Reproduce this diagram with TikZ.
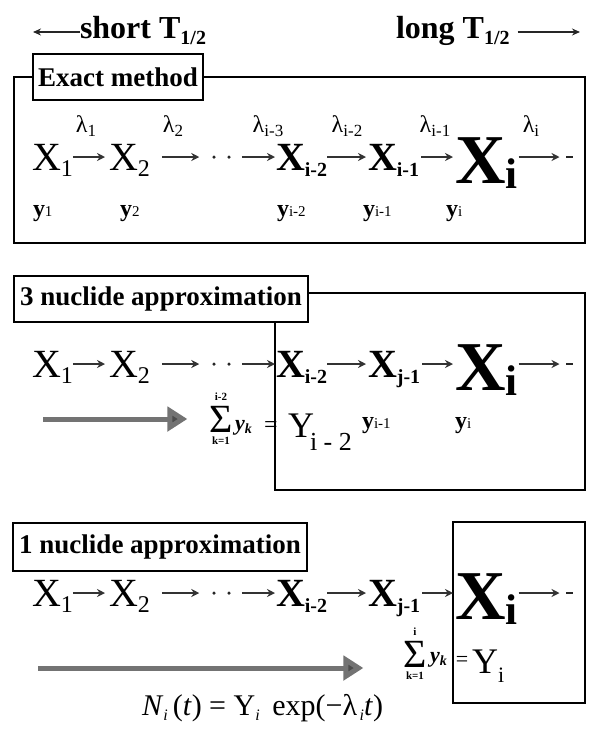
\documentclass[tikz,border=0pt]{standalone}
\usepackage{fontspec}
\setmainfont{Liberation Serif}
\usetikzlibrary{arrows.meta}
\newcommand\fsz[1]{\fontsize{#1}{#1}\selectfont}
\newcommand\sbs[3]{\raisebox{#1}{\fsz{#2}#3}}
\tikzset{
  xreg/.style={font=\fsz{40}},
  xbold/.style={font=\bfseries\fsz{40}},
  xbig/.style={font=\bfseries\fsz{70}},
  lam/.style={font=\fsz{24},anchor=base},
  yl/.style={font=\bfseries\fsz{24},anchor=base west},
  lbl/.style={draw,line width=1.6pt,font=\bfseries\fsz{27}},
  frame/.style={line width=1.8pt},
  arr/.style={line width=1.6pt,draw=black!80,-{Stealth[length=8pt,width=8pt]}},
  toparr/.style={line width=1.5pt,draw=black!85,-{Stealth[length=8pt,width=7pt]}},
  bigarr/.style={line width=5pt,draw=black!55,-{Triangle[length=20pt,width=24pt,fill=black!70]}},
  dotn/.style={circle,fill=black!85,minimum size=3.5pt,inner sep=0pt},
  dashn/.style={rectangle,fill=black!85,minimum width=7pt,minimum height=2.2pt,inner sep=0pt},
  sig/.style={font=\fsz{40},anchor=base},
  lim/.style={font=\bfseries\fsz{11}},
}
\newcommand\chainrow[3]{%
  \coordinate (#1lv) at (0,#2-13);
  \node[xreg,anchor=base west] (#1a) at (32,#2) {X\sbs{-6pt}{24}{1}};
  \node[xreg,anchor=base west] (#1b) at (109,#2) {X\sbs{-6pt}{24}{2}};
  \node[dotn] (#1d) at (214,#2-13) {};
  \node[dotn] (#1e) at (229,#2-13) {};
  \node[xbold,anchor=base west] (#1c) at (276,#2) {X\sbs{-6pt}{20}{i-2}};
  \node[xbold,anchor=base west] (#1f) at (368,#2) {X\sbs{-6pt}{20}{#3-1}};
  \node[xbig,anchor=base west] (#1g) at (455,#2+13) {X\sbs{-5pt}{43}{i}};
  \node[dashn] (#1h) at (569,#2-13) {};
  \draw[arr] (#1a.east |- #1lv) -- ([xshift=-4pt]#1b.west |- #1lv);
  \draw[arr] ([xshift=12pt]#1b.east |- #1lv) -- ([xshift=-13pt]#1d.west |- #1lv);
  \draw[arr] ([xshift=11pt]#1e.east |- #1lv) -- ([xshift=-1pt]#1c.west |- #1lv);
  \draw[arr] (#1c.east |- #1lv) -- ([xshift=-2pt]#1f.west |- #1lv);
  \draw[arr] ([xshift=2pt]#1f.east |- #1lv) -- ([xshift=-2pt]#1g.west |- #1lv);
  \draw[arr] ([xshift=1pt]#1g.east |- #1lv) -- ([xshift=-6pt]#1h.west |- #1lv);
}
\begin{document}
\begin{tikzpicture}[x=1pt,y=-1pt,every node/.style={inner sep=0pt,outer sep=0pt}]
\useasboundingbox (0,0) rectangle (589,729);

% top row
\node[anchor=base west,font=\bfseries\fsz{32}] (short) at (80,38) {short T\sbs{-6pt}{20}{1/2}};
\coordinate (shortend) at (33,32);
\draw[toparr] (short.west |- shortend) -- (shortend);
\node[anchor=base west,font=\bfseries\fsz{32}] (long) at (396,38) {long T\sbs{-6pt}{20}{1/2}};
\coordinate (longend) at (580,32);
\draw[toparr] ([xshift=8pt]long.east |- longend) -- (longend);

% exact method
\node[lbl,minimum width=170pt,minimum height=46pt] (exlbl) at (118,77) {Exact method};
\coordinate (extop) at (0,77);
\draw[frame] (exlbl.west |- extop) -- (14,77) -- (14,243) -- (585,243) -- (585,77) -- (exlbl.east |- extop);
\node[lam] (el1) at (86,132) {λ\sbs{-4pt}{17}{1}};
\node[lam] (el2) at (173,132) {λ\sbs{-4pt}{17}{2}};
\node[lam] (el3) at (268,132) {λ\sbs{-4pt}{17}{i-3}};
\node[lam] (el4) at (347,132) {λ\sbs{-4pt}{17}{i-2}};
\node[lam] (el5) at (435,132) {λ\sbs{-4pt}{17}{i-1}};
\node[lam] (el6) at (531,132) {λ\sbs{-4pt}{17}{i}};
\chainrow{e}{170}{i}
\node[yl] (ey1) at (33,216) {y{\mdseries\fsz{15}1}};
\node[yl] (ey2) at (120,216) {y{\mdseries\fsz{15}2}};
\node[yl] (ey3) at (277,216) {y{\mdseries\fsz{15}i-2}};
\node[yl] (ey4) at (363,216) {y{\mdseries\fsz{15}i-1}};
\node[yl] (ey5) at (446,216) {y{\mdseries\fsz{15}i}};

% 3 nuclide approximation
\node[lbl,minimum width=294pt,minimum height=46pt] (tlbl) at (161,299) {3 nuclide approximation};
\coordinate (ttop) at (0,293);
\draw[frame] (tlbl.east |- ttop) -- (585,293) -- (585,490) -- (275,490) -- (275,322);
\chainrow{t}{377}{j}
\node[sig] (tsig) at (221,432) {Σ};
\node[lim,anchor=south] (tsup) at ([yshift=5pt]tsig.north) {i-2};
\node[lim,anchor=north] (tsub) at ([yshift=-5pt]tsig.south) {k=1};
\node[anchor=base west,font=\bfseries\itshape\fsz{22}] (tyk) at (235,430) {y\sbs{-3pt}{14}{k}};
\node[anchor=base,font=\fsz{24}] (teq) at (271,432) {=};
\node[anchor=base west,font=\fsz{36}] (tY) at (288,437) {Y\kern-4pt\sbs{-13pt}{26}{i - 2}};
\node[yl] (ty4) at (362,428) {y{\mdseries\fsz{15}i-1}};
\node[yl] (ty5) at (455,428) {y{\mdseries\fsz{15}i}};
\coordinate (t3s) at (43,419);
\draw[bigarr] (t3s) -- ([xshift=-22pt]tsig.west |- t3s);

% 1 nuclide approximation
\node[lbl,minimum width=294pt,minimum height=48pt] (olbl) at (160,547) {1 nuclide approximation};
\draw[frame] (453,522) rectangle (585,703);
\chainrow{o}{606}{j}
\node[sig] (osig) at (415,667) {Σ};
\node[lim,anchor=south] (osup) at ([yshift=5pt]osig.north) {i};
\node[lim,anchor=north] (osub) at ([yshift=-5pt]osig.south) {k=1};
\node[anchor=base west,font=\bfseries\itshape\fsz{22}] (oyk) at (430,662) {y\sbs{-3pt}{14}{k}};
\node[anchor=base,font=\fsz{22}] (oeq) at (462,666) {=};
\node[anchor=base west,font=\fsz{36}] (oY) at (472,673) {Y\sbs{-9pt}{22}{i}};
\coordinate (o1s) at (38,668);
\draw[bigarr] (o1s) -- ([xshift=-40pt]osig.west |- o1s);
\node[anchor=base west,font=\fsz{30}] (eqn) at (142,715) {\textit{N}\sbs{-5pt}{16}{\textit{i}}\,(\textit{t}) = Y\sbs{-5pt}{16}{\textit{i}}\, exp(−λ\sbs{-5pt}{16}{\,\textit{i}}\textit{t})};
\end{tikzpicture}
\end{document}
